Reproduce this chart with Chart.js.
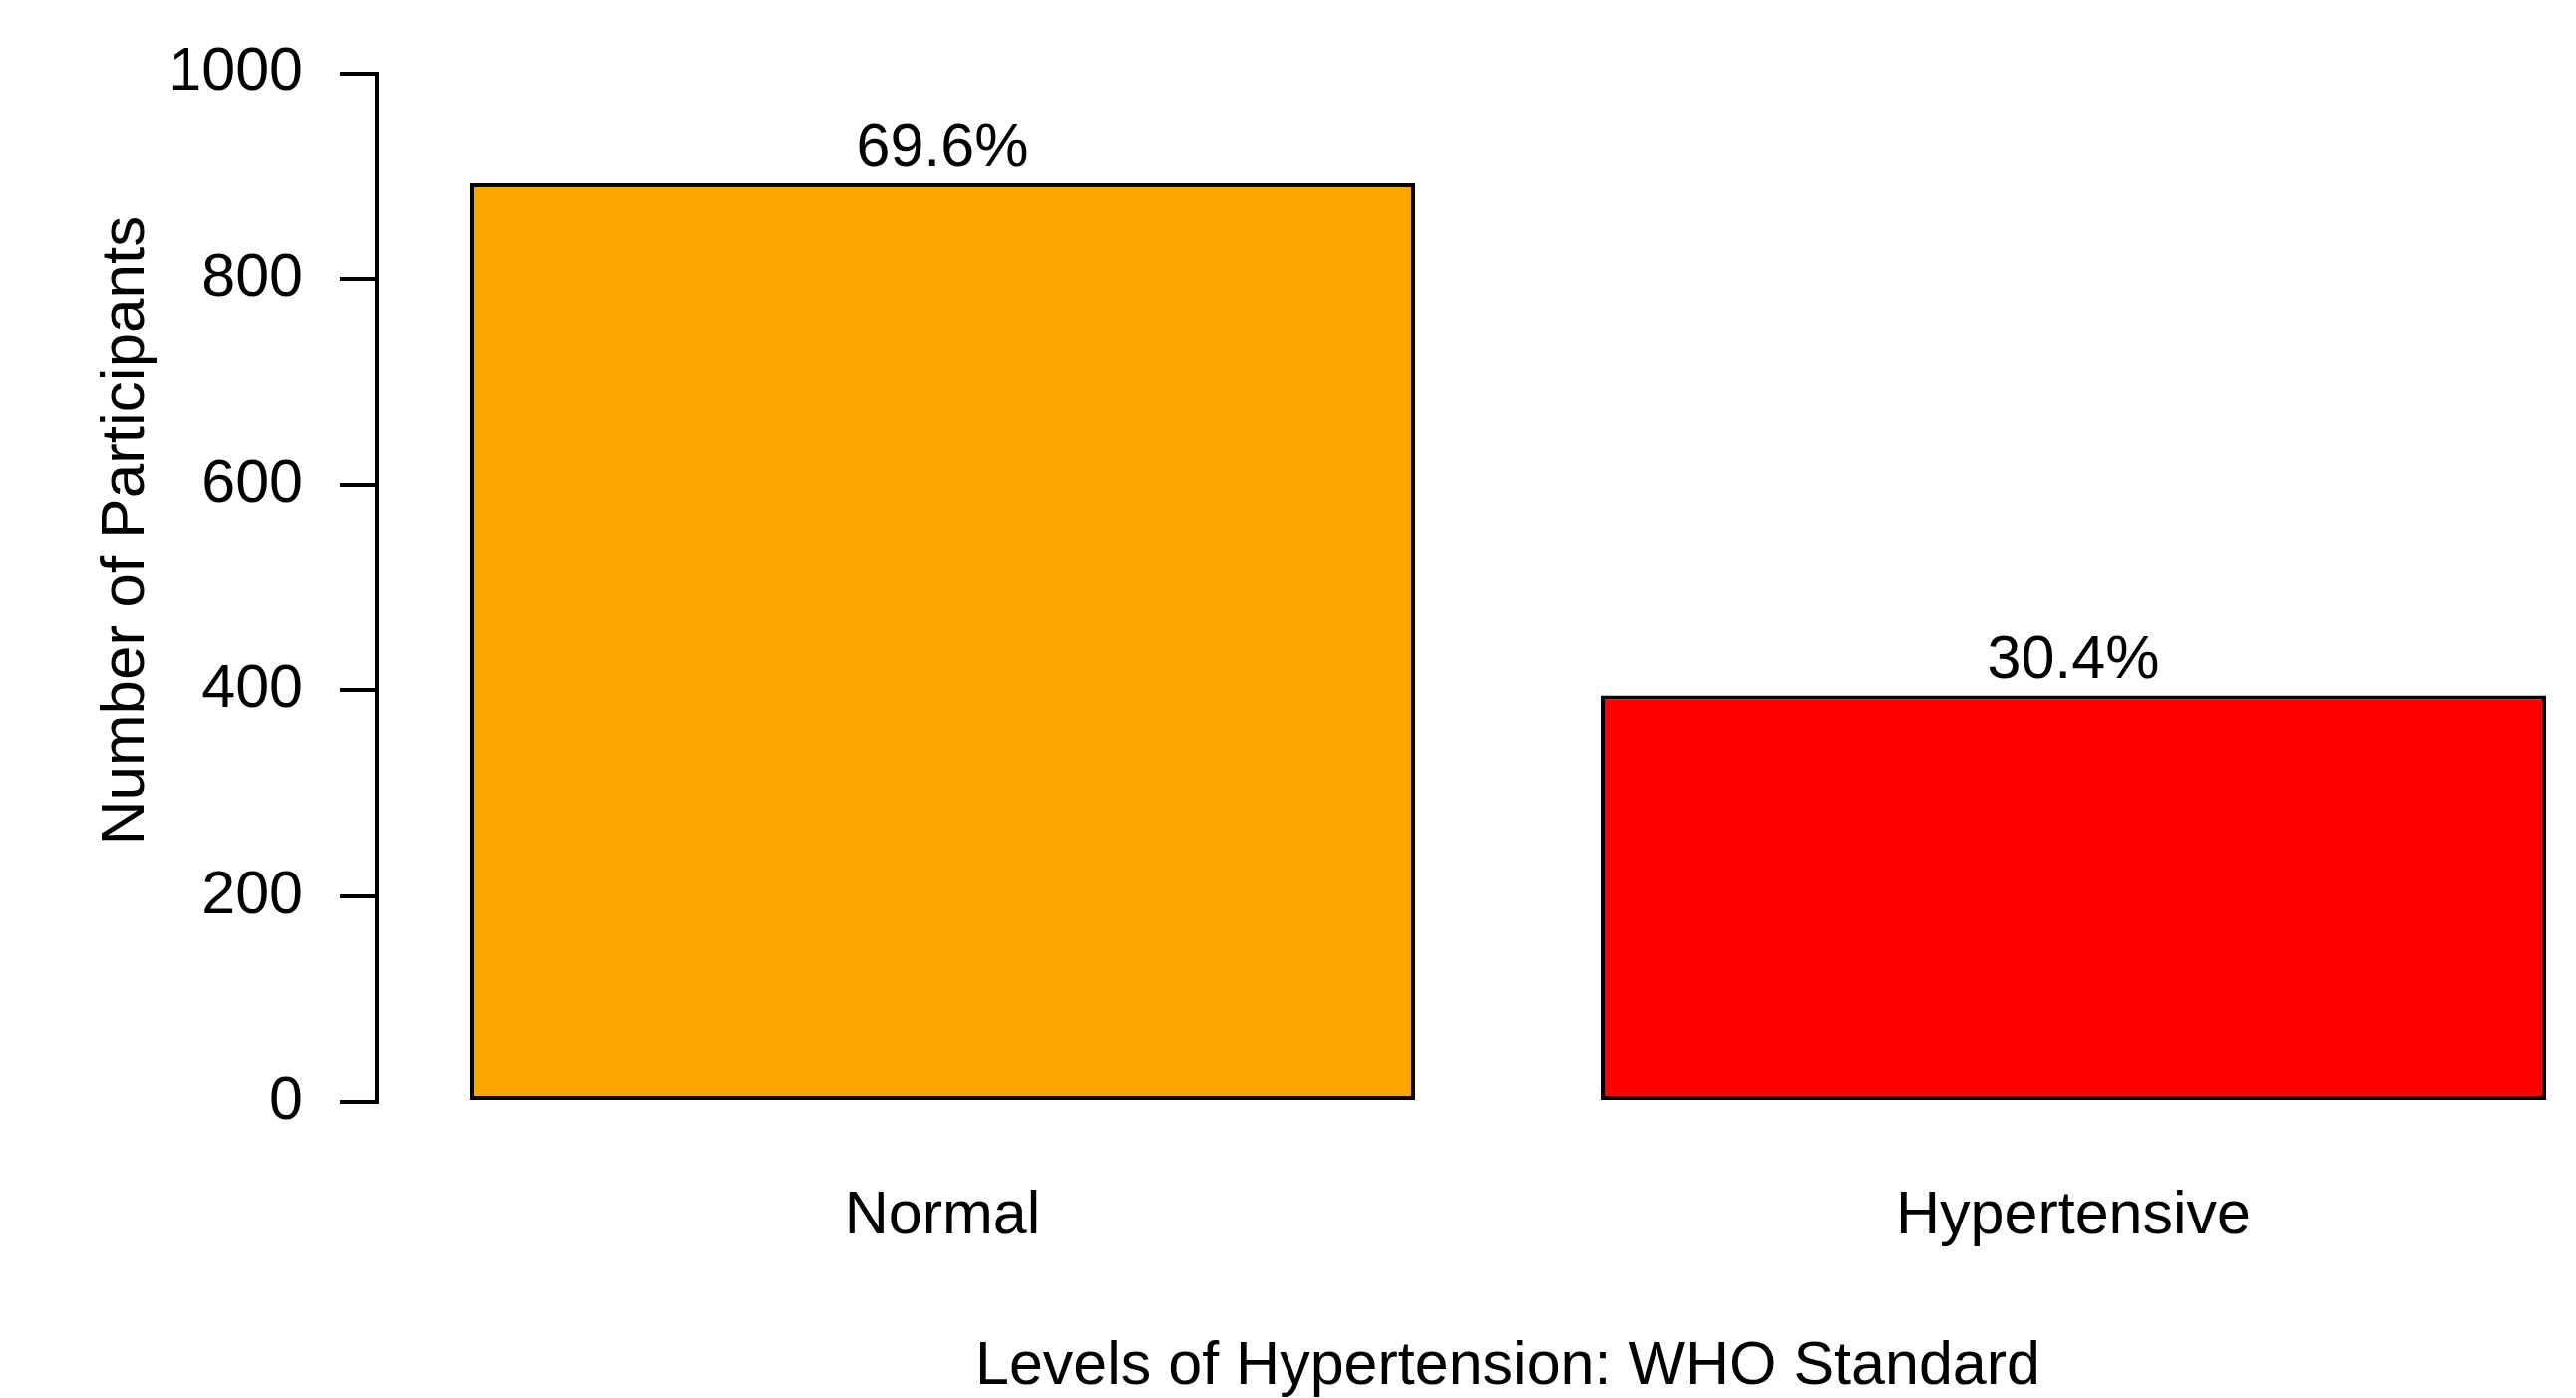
<!DOCTYPE html>
<html>
<head>
<meta charset="utf-8">
<script src="https://cdn.jsdelivr.net/npm/chart.js"></script>
<style>
html, body { margin: 0; padding: 0; overflow: hidden; background: #fff; }
</style>
</head>
<body>
<canvas id="myChart" width="2646" height="1402" style="width:2646px;height:1402px;display:block"></canvas>
<script>
var categories = ['Normal', 'Hypertensive'];
var participants = [893, 395];
var percentLabels = ['69.6%', '30.4%'];
var barColors = ['#FFA500', '#FF0000'];
var yTicks = [0, 200, 400, 600, 800, 1000];

var FONT = '"Liberation Sans", Arial, sans-serif';
Chart.defaults.font.family = FONT;
Chart.defaults.font.size = 61;
Chart.defaults.color = '#000';

// percentages above bars + rotated y title
var labelPlugin = {
    id: 'barLabels',
    afterDatasetsDraw: function (chart) {
        var ctx = chart.ctx;
        var meta = chart.getDatasetMeta(0);
        ctx.save();
        ctx.font = '61px ' + FONT;
        ctx.fillStyle = '#000';
        ctx.textAlign = 'center';
        ctx.textBaseline = 'alphabetic';
        meta.data.forEach(function (bar, i) {
            ctx.fillText(percentLabels[i], bar.x, bar.y - 18);
        });
        ctx.font = '62px ' + FONT;
        ctx.translate(144, 532);
        ctx.rotate(-Math.PI / 2);
        ctx.fillText('Number of Participants', 0, 0);
        ctx.restore();
    }
};

var ctx = document.getElementById('myChart').getContext('2d');
var myBarChart = new Chart(ctx, {
    type: 'bar',
    data: {
        labels: categories,
        datasets: [{
            data: participants,
            backgroundColor: barColors,
            borderColor: '#000',
            borderWidth: 4,
            borderSkipped: false,
            categoryPercentage: 1,
            barPercentage: 0.836
        }]
    },
    options: {
        responsive: false,
        animation: false,
        devicePixelRatio: 1,
        layout: {
            padding: { left: 0, right: 0, top: 67, bottom: 0 }
        },
        scales: {
            x: {
                offset: true,
                grid: { display: false, drawTicks: false },
                border: { display: false },
                ticks: { padding: 79 },
                title: {
                    display: true,
                    text: 'Levels of Hypertension: WHO Standard',
                    font: { size: 61, lineHeight: 0.9 },
                    padding: 3
                },
                afterFit: function (scale) { scale.height = 297; }
            },
            y: {
                min: 0,
                max: 1000,
                afterBuildTicks: function (scale) {
                    scale.ticks = yTicks.map(function (v) { return { value: v }; });
                },
                grid: {
                    drawOnChartArea: false,
                    drawTicks: true,
                    tickLength: 37,
                    color: '#000',
                    lineWidth: 4
                },
                border: { display: true, color: '#000', width: 4 },
                ticks: {
                    padding: 37,
                    callback: function (value) { return String(value); }
                },
                afterFit: function (scale) { scale.width = 378; }
            }
        },
        plugins: {
            legend: { display: false },
            tooltip: { enabled: false }
        }
    },
    plugins: [labelPlugin]
});
</script>
</body>
</html>
